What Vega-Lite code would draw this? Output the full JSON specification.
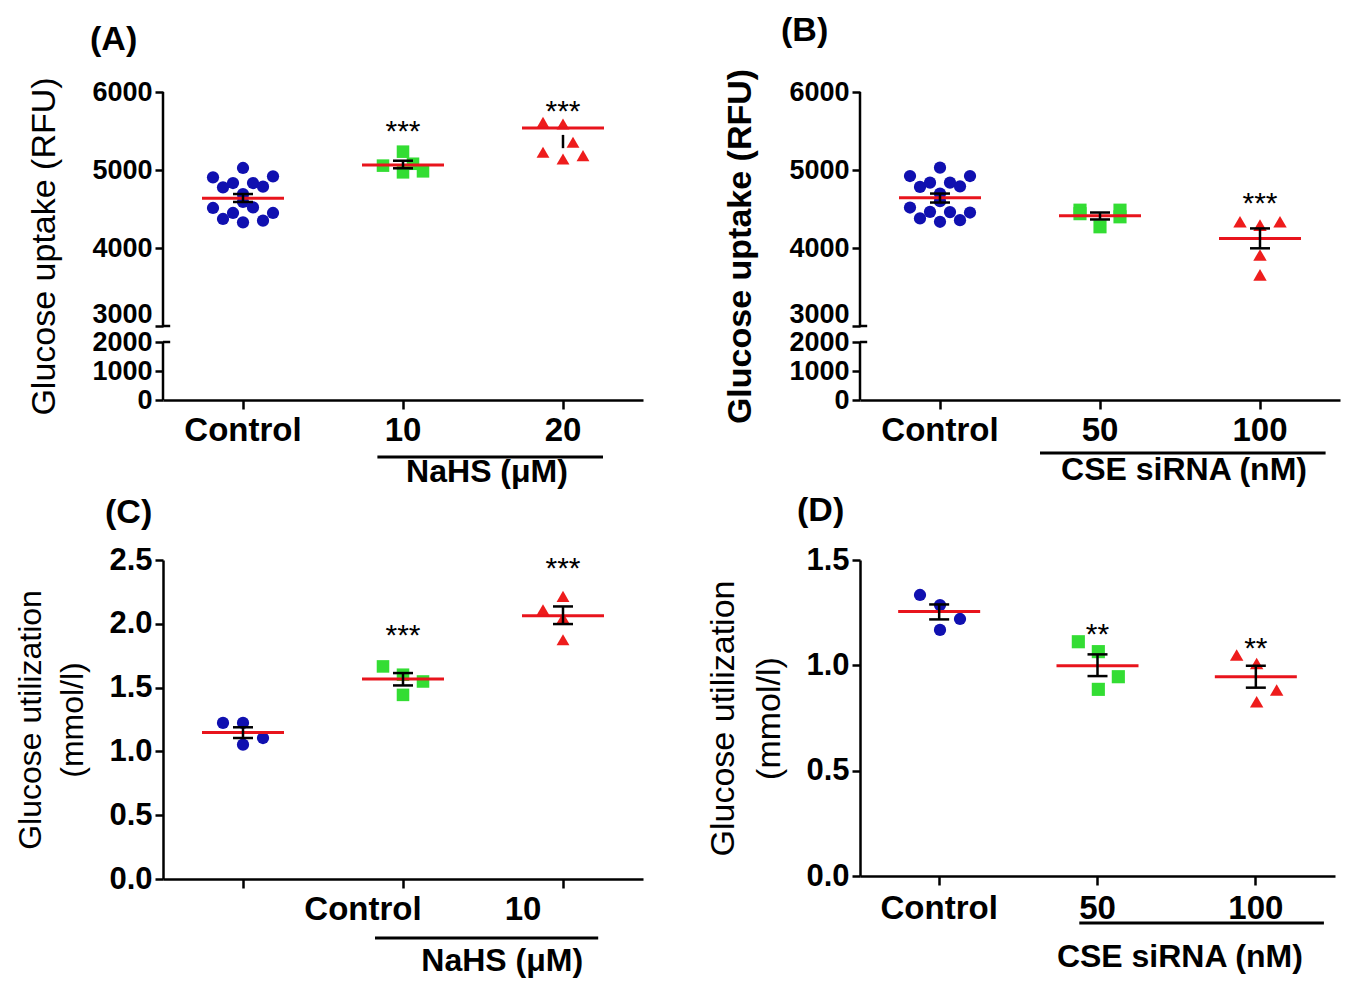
{
 "$schema": "https://vega.github.io/schema/vega-lite/v6.json",
 "background": "white",
 "padding": {"left": 14, "top": 14, "right": 5, "bottom": 5},
 "columns": 2,
 "spacing": {"row": 160, "column": 217},
 "bounds": "flush",
 "config": {
  "font": "Liberation Sans",
  "view": {"stroke": null},
  "axis": {"grid": false, "labelFont": "Liberation Sans", "titleFont": "Liberation Sans", "labelColor": "#000", "titleColor": "#000", "tickColor": "#000", "domainColor": "#000", "tickWidth": 2.5, "domainWidth": 2.5, "labelFontWeight": "bold", "titleFontWeight": "normal", "labelOverlap": false},
  "axisX": {"labelFontSize": 33, "labelAngle": 0, "labelPadding": 5, "tickSize": 9},
  "axisY": {"labelFontSize": 31, "titleFontSize": 33, "labelPadding": 3, "tickSize": 8},
  "title": {"font": "Liberation Sans", "fontSize": 34, "fontWeight": "bold", "color": "#000"},
  "text": {"font": "Liberation Sans", "color": "#000"},
  "tick": {"opacity": 1}
 },
 "datasets": {
  "pts": [
   {"panel": "A", "group": "Control", "col": 0, "value": 5026},
   {"panel": "A", "group": "Control", "col": -3, "value": 4906},
   {"panel": "A", "group": "Control", "col": 3, "value": 4919},
   {"panel": "A", "group": "Control", "col": -2, "value": 4778},
   {"panel": "A", "group": "Control", "col": -1, "value": 4833},
   {"panel": "A", "group": "Control", "col": 1, "value": 4833},
   {"panel": "A", "group": "Control", "col": 2, "value": 4786},
   {"panel": "A", "group": "Control", "col": 0, "value": 4690},
   {"panel": "A", "group": "Control", "col": 0, "value": 4590},
   {"panel": "A", "group": "Control", "col": -3, "value": 4513},
   {"panel": "A", "group": "Control", "col": 1, "value": 4520},
   {"panel": "A", "group": "Control", "col": -1, "value": 4449},
   {"panel": "A", "group": "Control", "col": 3, "value": 4449},
   {"panel": "A", "group": "Control", "col": -2, "value": 4372},
   {"panel": "A", "group": "Control", "col": 2, "value": 4350},
   {"panel": "A", "group": "Control", "col": 0, "value": 4329},
   {"panel": "A", "group": "10", "col": 0, "value": 5235},
   {"panel": "A", "group": "10", "col": -2, "value": 5056},
   {"panel": "A", "group": "10", "col": 0, "value": 4970},
   {"panel": "A", "group": "10", "col": 2, "value": 4983},
   {"panel": "A", "group": "10", "col": 1, "value": 5080},
   {"panel": "A", "group": "20", "col": -2, "value": 5611},
   {"panel": "A", "group": "20", "col": 0, "value": 5590},
   {"panel": "A", "group": "20", "col": 1, "value": 5355},
   {"panel": "A", "group": "20", "col": -2, "value": 5227},
   {"panel": "A", "group": "20", "col": 0, "value": 5141},
   {"panel": "A", "group": "20", "col": 2, "value": 5184},
   {"panel": "B", "group": "Control", "col": 0, "value": 5030},
   {"panel": "B", "group": "Control", "col": -3, "value": 4923},
   {"panel": "B", "group": "Control", "col": 3, "value": 4923},
   {"panel": "B", "group": "Control", "col": -2, "value": 4783},
   {"panel": "B", "group": "Control", "col": -1, "value": 4838},
   {"panel": "B", "group": "Control", "col": 1, "value": 4838},
   {"panel": "B", "group": "Control", "col": 2, "value": 4791},
   {"panel": "B", "group": "Control", "col": 0, "value": 4698},
   {"panel": "B", "group": "Control", "col": 0, "value": 4600},
   {"panel": "B", "group": "Control", "col": -3, "value": 4519},
   {"panel": "B", "group": "Control", "col": -1, "value": 4464},
   {"panel": "B", "group": "Control", "col": 3, "value": 4455},
   {"panel": "B", "group": "Control", "col": 1, "value": 4460},
   {"panel": "B", "group": "Control", "col": -2, "value": 4379},
   {"panel": "B", "group": "Control", "col": 2, "value": 4357},
   {"panel": "B", "group": "Control", "col": 0, "value": 4336},
   {"panel": "B", "group": "50", "col": -2, "value": 4485},
   {"panel": "B", "group": "50", "col": -2, "value": 4440},
   {"panel": "B", "group": "50", "col": 2, "value": 4485},
   {"panel": "B", "group": "50", "col": 2, "value": 4400},
   {"panel": "B", "group": "50", "col": 0, "value": 4272},
   {"panel": "B", "group": "100", "col": -2, "value": 4336},
   {"panel": "B", "group": "100", "col": 2, "value": 4336},
   {"panel": "B", "group": "100", "col": 0, "value": 4293},
   {"panel": "B", "group": "100", "col": 0, "value": 3911},
   {"panel": "B", "group": "100", "col": 0, "value": 3655},
   {"panel": "C", "group": "Control", "col": -2, "value": 1.223},
   {"panel": "C", "group": "Control", "col": 0, "value": 1.223},
   {"panel": "C", "group": "Control", "col": 0, "value": 1.053},
   {"panel": "C", "group": "Control", "col": 2, "value": 1.105},
   {"panel": "C", "group": "10", "col": -2, "value": 1.666},
   {"panel": "C", "group": "10", "col": 0, "value": 1.601},
   {"panel": "C", "group": "10", "col": 2, "value": 1.548},
   {"panel": "C", "group": "10", "col": 0, "value": 1.443},
   {"panel": "C", "group": "20", "col": -2, "value": 2.11},
   {"panel": "C", "group": "20", "col": 0, "value": 2.215},
   {"panel": "C", "group": "20", "col": 0, "value": 2.045},
   {"panel": "C", "group": "20", "col": 0, "value": 1.875},
   {"panel": "D", "group": "Control", "col": -2, "value": 1.334},
   {"panel": "D", "group": "Control", "col": 0, "value": 1.286},
   {"panel": "D", "group": "Control", "col": 2, "value": 1.22},
   {"panel": "D", "group": "Control", "col": 0, "value": 1.168},
   {"panel": "D", "group": "50", "col": -2, "value": 1.112},
   {"panel": "D", "group": "50", "col": 0, "value": 1.065},
   {"panel": "D", "group": "50", "col": 2, "value": 0.946},
   {"panel": "D", "group": "50", "col": 0, "value": 0.886},
   {"panel": "D", "group": "100", "col": -2, "value": 1.049},
   {"panel": "D", "group": "100", "col": 0, "value": 1.009},
   {"panel": "D", "group": "100", "col": 2, "value": 0.883},
   {"panel": "D", "group": "100", "col": 0, "value": 0.827}
  ],
  "sum": [
   {"panel": "A", "group": "Control", "mean": 4637, "lo": 4590, "hi": 4692, "stars": null, "star_y": null},
   {"panel": "A", "group": "10", "mean": 5064, "lo": 5022, "hi": 5119, "stars": "***", "star_y": 5590},
   {"panel": "A", "group": "20", "mean": 5539, "lo": 5280, "hi": 5450, "stars": "***", "star_y": 5846},
   {"panel": "B", "group": "Control", "mean": 4643, "lo": 4583, "hi": 4698, "stars": null, "star_y": null},
   {"panel": "B", "group": "50", "mean": 4413, "lo": 4366, "hi": 4455, "stars": null, "star_y": null},
   {"panel": "B", "group": "100", "mean": 4123, "lo": 3996, "hi": 4251, "stars": "***", "star_y": 4672},
   {"panel": "C", "group": "Control", "mean": 1.149, "lo": 1.105, "hi": 1.189, "stars": null, "star_y": null},
   {"panel": "C", "group": "10", "mean": 1.567, "lo": 1.517, "hi": 1.614, "stars": "***", "star_y": 1.967},
   {"panel": "C", "group": "20", "mean": 2.063, "lo": 1.998, "hi": 2.136, "stars": "***", "star_y": 2.494},
   {"panel": "D", "group": "Control", "mean": 1.255, "lo": 1.218, "hi": 1.289, "stars": null, "star_y": null},
   {"panel": "D", "group": "50", "mean": 0.998, "lo": 0.949, "hi": 1.052, "stars": "**", "star_y": 1.182},
   {"panel": "D", "group": "100", "mean": 0.946, "lo": 0.894, "hi": 0.998, "stars": "**", "star_y": 1.117}
  ]
 },
 "concat": [
  {
   "width": 480, "height": 308,
   "title": {"text": "(A)", "anchor": "start", "frame": "group", "dx": -73, "offset": 20},
   "layer": [
    {"data": {"name": "pts"}, "transform": [{"filter": "datum.panel === 'A'"}],
     "mark": {"type": "point", "filled": true, "opacity": 1},
     "encoding": {
      "x": {"field": "group", "type": "nominal", "sort": null, "scale": {"type": "band", "domain": ["Control", "10", "20"], "paddingInner": 0, "paddingOuter": 0}, "axis": {"title": null}},
      "xOffset": {"field": "col", "type": "ordinal", "scale": {"domain": [-8, -7, -6, -5, -4, -3, -2, -1, 0, 1, 2, 3, 4, 5, 6, 7, 8], "paddingInner": 0, "paddingOuter": 0}},
      "y": {"field": "value", "type": "quantitative", "scale": {"domain": [0, 2000, 3000, 6000], "range": [308, 250, 234, 0], "nice": false, "zero": false}, "axis": {"values": [0, 1000, 2000, 3000, 4000, 5000, 6000], "format": "d", "domain": false, "labelFontSize": 27, "title": "Glucose uptake (RFU)", "titleFontSize": 34, "titlePadding": 30, "labelOffset": {"condition": {"test": "datum.value === 3000", "value": -12}, "value": 0}}},
      "color": {"field": "group", "type": "nominal", "scale": {"domain": ["Control", "10", "20", "50", "100"], "range": ["#1010b0", "#33dd33", "#ee1c1c", "#33dd33", "#ee1c1c"]}, "legend": null},
      "shape": {"field": "group", "type": "nominal", "scale": {"domain": ["Control", "10", "20", "50", "100"], "range": ["circle", "square", "triangle-up", "square", "triangle-up"]}, "legend": null},
      "size": {"field": "group", "type": "ordinal", "scale": {"domain": ["Control", "10", "20", "50", "100"], "range": [150, 180, 220, 180, 220]}, "legend": null}
     }},
    {"data": {"name": "sum"}, "transform": [{"filter": "datum.panel === 'A'"}],
     "mark": {"type": "tick", "color": "#e8141c", "thickness": 3, "size": 82, "opacity": 1},
     "encoding": {"x": {"field": "group", "type": "nominal"}, "y": {"field": "mean", "type": "quantitative"}}},
    {"data": {"name": "sum"}, "transform": [{"filter": "datum.panel === 'A'"}],
     "mark": {"type": "rule", "color": "#000", "strokeWidth": 2.5},
     "encoding": {"x": {"field": "group", "type": "nominal"}, "y": {"field": "lo", "type": "quantitative"}, "y2": {"field": "hi"}}},
    {"data": {"name": "sum"}, "transform": [{"filter": "datum.panel === 'A' && datum.group !== '20'"}],
     "mark": {"type": "tick", "color": "#000", "thickness": 2.5, "size": 20, "opacity": 1},
     "encoding": {"x": {"field": "group", "type": "nominal"}, "y": {"field": "lo", "type": "quantitative"}}},
    {"data": {"name": "sum"}, "transform": [{"filter": "datum.panel === 'A' && datum.group !== '20'"}],
     "mark": {"type": "tick", "color": "#000", "thickness": 2.5, "size": 20, "opacity": 1},
     "encoding": {"x": {"field": "group", "type": "nominal"}, "y": {"field": "hi", "type": "quantitative"}}},
    {"data": {"name": "sum"}, "transform": [{"filter": "datum.panel === 'A' && datum.stars"}],
     "mark": {"type": "text", "fontSize": 30, "dy": 8},
     "encoding": {"x": {"field": "group", "type": "nominal"}, "y": {"field": "star_y", "type": "quantitative"}, "text": {"field": "stars"}}},
    {"data": {"values": [{}]}, "mark": {"type": "rule", "color": "#000", "strokeWidth": 2.5},
     "encoding": {"x": {"datum": "Control", "bandPosition": 0}, "y": {"datum": 0}, "y2": {"datum": 2000}}},
    {"data": {"values": [{}]}, "mark": {"type": "rule", "color": "#000", "strokeWidth": 2.5},
     "encoding": {"x": {"datum": "Control", "bandPosition": 0}, "y": {"datum": 3000}, "y2": {"datum": 6000}}},
    {"data": {"values": [{}]}, "mark": {"type": "rule", "color": "#000", "strokeWidth": 2.5},
     "encoding": {"x": {"datum": "Control", "bandPosition": 0}, "x2": {"datum": "Control", "bandPosition": 0.045}, "y": {"datum": 2000}}},
    {"data": {"values": [{}]}, "mark": {"type": "rule", "color": "#000", "strokeWidth": 2.5},
     "encoding": {"x": {"datum": "Control", "bandPosition": 0}, "x2": {"datum": "Control", "bandPosition": 0.045}, "y": {"datum": 3000}}},
    {"data": {"values": [{}]}, "mark": {"type": "rule", "color": "#000", "strokeWidth": 3},
     "encoding": {"x": {"datum": "10", "bandPosition": 0.34}, "x2": {"datum": "20", "bandPosition": 0.75}, "y": {"datum": -1966}}},
    {"data": {"values": [{}]}, "mark": {"type": "text", "text": "NaHS (μM)", "fontSize": 32, "fontWeight": "bold", "baseline": "middle"},
     "encoding": {"x": {"datum": "20", "bandPosition": 0.025}, "y": {"datum": -2483}}}
   ]
  },
  {
   "width": 480, "height": 308,
   "title": {"text": "(B)", "anchor": "start", "frame": "group", "dx": -79, "offset": 20},
   "layer": [
    {"data": {"name": "pts"}, "transform": [{"filter": "datum.panel === 'B'"}],
     "mark": {"type": "point", "filled": true, "opacity": 1},
     "encoding": {
      "x": {"field": "group", "type": "nominal", "sort": null, "scale": {"type": "band", "domain": ["Control", "50", "100"], "paddingInner": 0, "paddingOuter": 0}, "axis": {"title": null}},
      "xOffset": {"field": "col", "type": "ordinal", "scale": {"domain": [-8, -7, -6, -5, -4, -3, -2, -1, 0, 1, 2, 3, 4, 5, 6, 7, 8], "paddingInner": 0, "paddingOuter": 0}},
      "y": {"field": "value", "type": "quantitative", "scale": {"domain": [0, 2000, 3000, 6000], "range": [308, 250, 234, 0], "nice": false, "zero": false}, "axis": {"values": [0, 1000, 2000, 3000, 4000, 5000, 6000], "format": "d", "domain": false, "labelFontSize": 27, "title": "Glucose uptake (RFU)", "titleFontWeight": "bold", "titleFontSize": 34, "titlePadding": 31, "labelOffset": {"condition": {"test": "datum.value === 3000", "value": -12}, "value": 0}}},
      "color": {"field": "group", "type": "nominal", "scale": {"domain": ["Control", "10", "20", "50", "100"], "range": ["#1010b0", "#33dd33", "#ee1c1c", "#33dd33", "#ee1c1c"]}, "legend": null},
      "shape": {"field": "group", "type": "nominal", "scale": {"domain": ["Control", "10", "20", "50", "100"], "range": ["circle", "square", "triangle-up", "square", "triangle-up"]}, "legend": null},
      "size": {"field": "group", "type": "ordinal", "scale": {"domain": ["Control", "10", "20", "50", "100"], "range": [150, 180, 220, 180, 220]}, "legend": null}
     }},
    {"data": {"name": "sum"}, "transform": [{"filter": "datum.panel === 'B'"}],
     "mark": {"type": "tick", "color": "#e8141c", "thickness": 3, "size": 82, "opacity": 1},
     "encoding": {"x": {"field": "group", "type": "nominal"}, "y": {"field": "mean", "type": "quantitative"}}},
    {"data": {"name": "sum"}, "transform": [{"filter": "datum.panel === 'B'"}],
     "mark": {"type": "rule", "color": "#000", "strokeWidth": 2.5},
     "encoding": {"x": {"field": "group", "type": "nominal"}, "y": {"field": "lo", "type": "quantitative"}, "y2": {"field": "hi"}}},
    {"data": {"name": "sum"}, "transform": [{"filter": "datum.panel === 'B'"}],
     "mark": {"type": "tick", "color": "#000", "thickness": 2.5, "size": 20, "opacity": 1},
     "encoding": {"x": {"field": "group", "type": "nominal"}, "y": {"field": "lo", "type": "quantitative"}}},
    {"data": {"name": "sum"}, "transform": [{"filter": "datum.panel === 'B'"}],
     "mark": {"type": "tick", "color": "#000", "thickness": 2.5, "size": 20, "opacity": 1},
     "encoding": {"x": {"field": "group", "type": "nominal"}, "y": {"field": "hi", "type": "quantitative"}}},
    {"data": {"name": "sum"}, "transform": [{"filter": "datum.panel === 'B' && datum.stars"}],
     "mark": {"type": "text", "fontSize": 30, "dy": 8},
     "encoding": {"x": {"field": "group", "type": "nominal"}, "y": {"field": "star_y", "type": "quantitative"}, "text": {"field": "stars"}}},
    {"data": {"values": [{}]}, "mark": {"type": "rule", "color": "#000", "strokeWidth": 2.5},
     "encoding": {"x": {"datum": "Control", "bandPosition": 0}, "y": {"datum": 0}, "y2": {"datum": 2000}}},
    {"data": {"values": [{}]}, "mark": {"type": "rule", "color": "#000", "strokeWidth": 2.5},
     "encoding": {"x": {"datum": "Control", "bandPosition": 0}, "y": {"datum": 3000}, "y2": {"datum": 6000}}},
    {"data": {"values": [{}]}, "mark": {"type": "rule", "color": "#000", "strokeWidth": 2.5},
     "encoding": {"x": {"datum": "Control", "bandPosition": 0}, "x2": {"datum": "Control", "bandPosition": 0.045}, "y": {"datum": 2000}}},
    {"data": {"values": [{}]}, "mark": {"type": "rule", "color": "#000", "strokeWidth": 2.5},
     "encoding": {"x": {"datum": "Control", "bandPosition": 0}, "x2": {"datum": "Control", "bandPosition": 0.045}, "y": {"datum": 3000}}},
    {"data": {"values": [{}]}, "mark": {"type": "rule", "color": "#000", "strokeWidth": 3},
     "encoding": {"x": {"datum": "50", "bandPosition": 0.125}, "x2": {"datum": "100", "bandPosition": 0.91}, "y": {"datum": -1828}}},
    {"data": {"values": [{}]}, "mark": {"type": "text", "text": "CSE siRNA (nM)", "fontSize": 32, "fontWeight": "bold", "baseline": "middle"},
     "encoding": {"x": {"datum": "100", "bandPosition": 0.025}, "y": {"datum": -2414}}}
   ]
  },
  {
   "width": 480, "height": 319,
   "title": {"text": "(C)", "anchor": "start", "frame": "group", "dx": -58, "offset": 14},
   "layer": [
    {"data": {"name": "pts"}, "transform": [{"filter": "datum.panel === 'C'"}],
     "mark": {"type": "point", "filled": true, "opacity": 1},
     "encoding": {
      "x": {"field": "group", "type": "nominal", "sort": null, "scale": {"type": "band", "domain": ["Control", "10", "20"], "paddingInner": 0, "paddingOuter": 0}, "axis": {"title": null, "labelExpr": "datum.value === 'Control' ? '' : datum.value === '10' ? 'Control' : '10'", "labelOffset": -40}},
      "xOffset": {"field": "col", "type": "ordinal", "scale": {"domain": [-8, -7, -6, -5, -4, -3, -2, -1, 0, 1, 2, 3, 4, 5, 6, 7, 8], "paddingInner": 0, "paddingOuter": 0}},
      "y": {"field": "value", "type": "quantitative", "scale": {"domain": [0, 2.5], "nice": false}, "axis": {"values": [0, 0.5, 1, 1.5, 2, 2.5], "format": ".1f", "title": ["Glucose utilization", "(mmol/l)"], "titleFontSize": 32, "titleLineHeight": 42, "titlePadding": 19}},
      "color": {"field": "group", "type": "nominal", "scale": {"domain": ["Control", "10", "20", "50", "100"], "range": ["#1010b0", "#33dd33", "#ee1c1c", "#33dd33", "#ee1c1c"]}, "legend": null},
      "shape": {"field": "group", "type": "nominal", "scale": {"domain": ["Control", "10", "20", "50", "100"], "range": ["circle", "square", "triangle-up", "square", "triangle-up"]}, "legend": null},
      "size": {"field": "group", "type": "ordinal", "scale": {"domain": ["Control", "10", "20", "50", "100"], "range": [150, 180, 220, 180, 220]}, "legend": null}
     }},
    {"data": {"name": "sum"}, "transform": [{"filter": "datum.panel === 'C'"}],
     "mark": {"type": "tick", "color": "#e8141c", "thickness": 3, "size": 82, "opacity": 1},
     "encoding": {"x": {"field": "group", "type": "nominal"}, "y": {"field": "mean", "type": "quantitative"}}},
    {"data": {"name": "sum"}, "transform": [{"filter": "datum.panel === 'C'"}],
     "mark": {"type": "rule", "color": "#000", "strokeWidth": 2.5},
     "encoding": {"x": {"field": "group", "type": "nominal"}, "y": {"field": "lo", "type": "quantitative"}, "y2": {"field": "hi"}}},
    {"data": {"name": "sum"}, "transform": [{"filter": "datum.panel === 'C'"}],
     "mark": {"type": "tick", "color": "#000", "thickness": 2.5, "size": 20, "opacity": 1},
     "encoding": {"x": {"field": "group", "type": "nominal"}, "y": {"field": "lo", "type": "quantitative"}}},
    {"data": {"name": "sum"}, "transform": [{"filter": "datum.panel === 'C'"}],
     "mark": {"type": "tick", "color": "#000", "thickness": 2.5, "size": 20, "opacity": 1},
     "encoding": {"x": {"field": "group", "type": "nominal"}, "y": {"field": "hi", "type": "quantitative"}}},
    {"data": {"name": "sum"}, "transform": [{"filter": "datum.panel === 'C' && datum.stars"}],
     "mark": {"type": "text", "fontSize": 30, "dy": 8},
     "encoding": {"x": {"field": "group", "type": "nominal"}, "y": {"field": "star_y", "type": "quantitative"}, "text": {"field": "stars"}}},
    {"data": {"values": [{}]}, "mark": {"type": "rule", "color": "#000", "strokeWidth": 3},
     "encoding": {"x": {"datum": "10", "bandPosition": 0.325}, "x2": {"datum": "20", "bandPosition": 0.72}, "y": {"datum": -0.462}}},
    {"data": {"values": [{}]}, "mark": {"type": "text", "text": "NaHS (μM)", "fontSize": 32, "fontWeight": "bold", "baseline": "middle"},
     "encoding": {"x": {"datum": "20", "bandPosition": 0.12}, "y": {"datum": -0.643}}}
   ]
  },
  {
   "width": 475, "height": 316,
   "title": {"text": "(D)", "anchor": "start", "frame": "group", "dx": -63, "offset": 16},
   "layer": [
    {"data": {"name": "pts"}, "transform": [{"filter": "datum.panel === 'D'"}],
     "mark": {"type": "point", "filled": true, "opacity": 1},
     "encoding": {
      "x": {"field": "group", "type": "nominal", "sort": null, "scale": {"type": "band", "domain": ["Control", "50", "100"], "paddingInner": 0, "paddingOuter": 0}, "axis": {"title": null, "labelPadding": 7}},
      "xOffset": {"field": "col", "type": "ordinal", "scale": {"domain": [-8, -7, -6, -5, -4, -3, -2, -1, 0, 1, 2, 3, 4, 5, 6, 7, 8], "paddingInner": 0, "paddingOuter": 0}},
      "y": {"field": "value", "type": "quantitative", "scale": {"domain": [0, 1.5], "nice": false}, "axis": {"values": [0, 0.5, 1, 1.5], "format": ".1f", "title": ["Glucose utilization", "(mmol/l)"], "titleFontSize": 34, "titleLineHeight": 46, "titlePadding": 19}},
      "color": {"field": "group", "type": "nominal", "scale": {"domain": ["Control", "10", "20", "50", "100"], "range": ["#1010b0", "#33dd33", "#ee1c1c", "#33dd33", "#ee1c1c"]}, "legend": null},
      "shape": {"field": "group", "type": "nominal", "scale": {"domain": ["Control", "10", "20", "50", "100"], "range": ["circle", "square", "triangle-up", "square", "triangle-up"]}, "legend": null},
      "size": {"field": "group", "type": "ordinal", "scale": {"domain": ["Control", "10", "20", "50", "100"], "range": [150, 180, 220, 180, 220]}, "legend": null}
     }},
    {"data": {"values": [{}]}, "mark": {"type": "rule", "color": "#000", "strokeWidth": 3},
     "encoding": {"x": {"datum": "50", "bandPosition": 0.385}, "x2": {"datum": "100", "bandPosition": 0.93}, "y": {"datum": -0.223}}},
    {"data": {"name": "sum"}, "transform": [{"filter": "datum.panel === 'D'"}],
     "mark": {"type": "tick", "color": "#e8141c", "thickness": 3, "size": 82, "opacity": 1},
     "encoding": {"x": {"field": "group", "type": "nominal"}, "y": {"field": "mean", "type": "quantitative"}}},
    {"data": {"name": "sum"}, "transform": [{"filter": "datum.panel === 'D'"}],
     "mark": {"type": "rule", "color": "#000", "strokeWidth": 2.5},
     "encoding": {"x": {"field": "group", "type": "nominal"}, "y": {"field": "lo", "type": "quantitative"}, "y2": {"field": "hi"}}},
    {"data": {"name": "sum"}, "transform": [{"filter": "datum.panel === 'D'"}],
     "mark": {"type": "tick", "color": "#000", "thickness": 2.5, "size": 20, "opacity": 1},
     "encoding": {"x": {"field": "group", "type": "nominal"}, "y": {"field": "lo", "type": "quantitative"}}},
    {"data": {"name": "sum"}, "transform": [{"filter": "datum.panel === 'D'"}],
     "mark": {"type": "tick", "color": "#000", "thickness": 2.5, "size": 20, "opacity": 1},
     "encoding": {"x": {"field": "group", "type": "nominal"}, "y": {"field": "hi", "type": "quantitative"}}},
    {"data": {"name": "sum"}, "transform": [{"filter": "datum.panel === 'D' && datum.stars"}],
     "mark": {"type": "text", "fontSize": 30, "dy": 8},
     "encoding": {"x": {"field": "group", "type": "nominal"}, "y": {"field": "star_y", "type": "quantitative"}, "text": {"field": "stars"}}},
    {"data": {"values": [{}]}, "mark": {"type": "text", "text": "CSE siRNA (nM)", "fontSize": 32, "fontWeight": "bold", "baseline": "middle"},
     "encoding": {"x": {"datum": "100", "bandPosition": 0.02}, "y": {"datum": -0.384}}}
   ]
  }
 ]
}
